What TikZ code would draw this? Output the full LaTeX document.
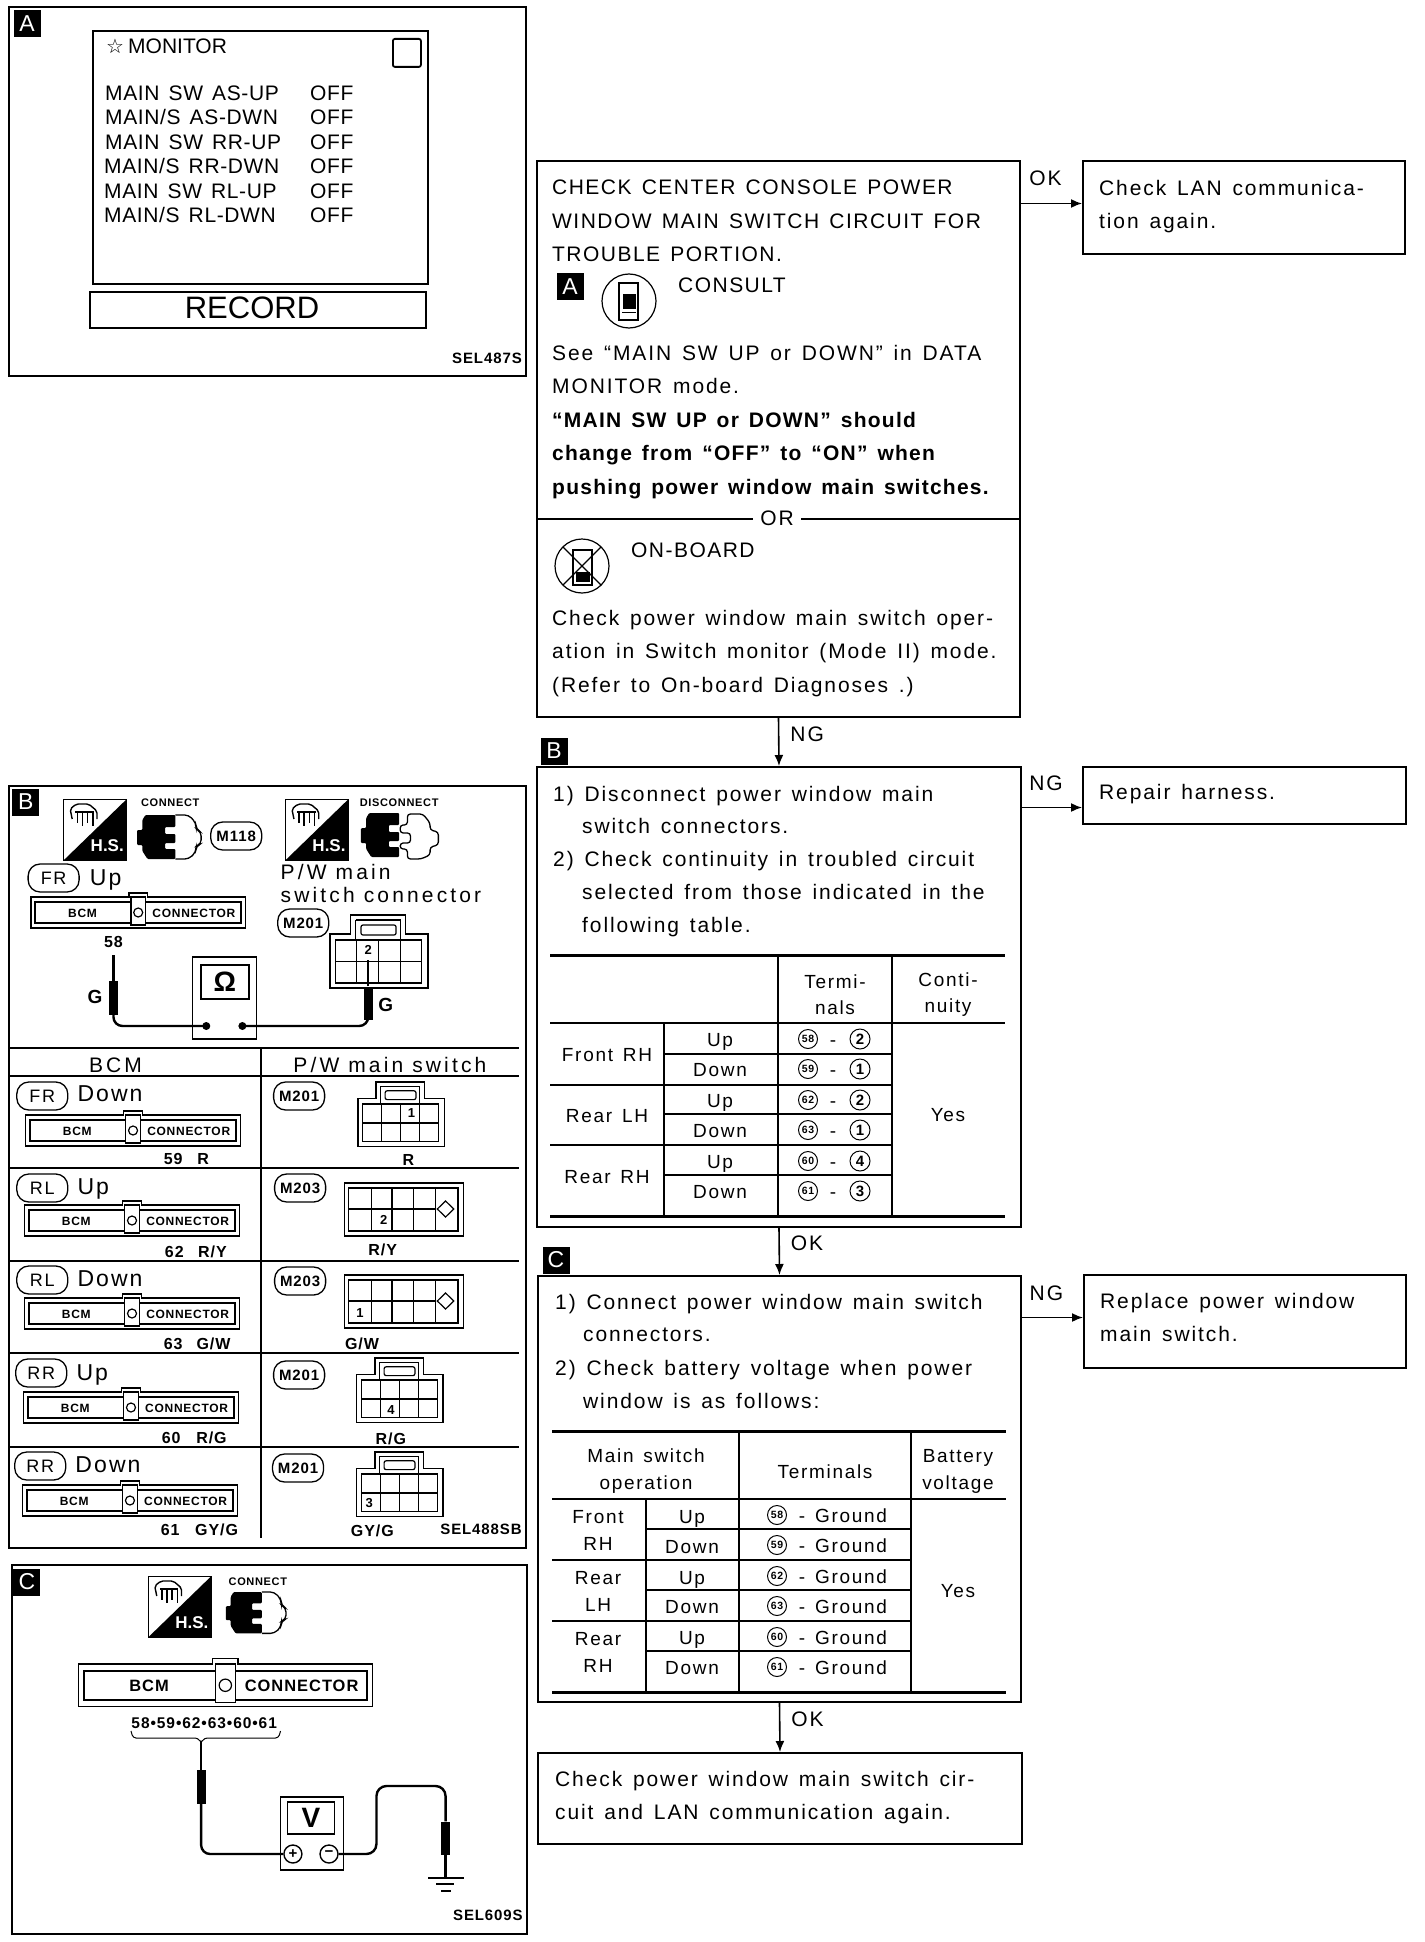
\documentclass[tikz,border=0pt]{standalone}
\usepackage{fontspec}
\setmainfont[LetterSpace=9, WordSpace=1.4, BoldFeatures={LetterSpace=6}]{Liberation Sans}
\newfontfamily\capsfont[LetterSpace=7, WordSpace=1.4]{Liberation Sans}
\newfontfamily\panelfont[LetterSpace=3, WordSpace=1.4]{Liberation Sans}
\newfontfamily\widefont[LetterSpace=15]{Liberation Sans}
\newfontfamily\plainfont{Liberation Sans}
\newfontfamily\symfont{DejaVu Sans}
\usetikzlibrary{arrows.meta, shapes.geometric}

\tikzset{
    pics/bcmconn/.style={code={
        \draw[conline, fill=white] (0,0) -- (95,0) -- (95,-4) -- (113,-4) -- (113,0) -- (208,0) -- (208,31) -- (0,31) -- cycle;
        \draw[conline, line width=1.8pt] (4,5) rectangle (204,26);
        \draw[conline, fill=white] (97,0) -- (111,0) -- (111,28) -- (97,28) -- cycle;
        \draw[conline] (104,15.5) circle (4.5pt);
        \node[bcmtxt] (-b) at (50,16) {BCM};
        \node[bcmtxt] (-c) at (158,16) {CONNECTOR};
    }},
    pics/hsicon/.style={code={
        \draw[line width=1pt] (0,0) rectangle (61,61);
        \fill (0,61) -- (61,0) -- (61,61) -- cycle;
        \node[hstxt] (-t) at (42,47) {H.S.};
        \draw[line width=1.4pt, rounded corners=2pt] (8,20) -- (6,10) -- (12,5) -- (24,5) -- (32,12) -- (32,20);
        \draw[line width=1.6pt] (11,13) -- (29,13) (13,13) -- (13,24) (18,13) -- (18,27) (23,13) -- (23,24) (28,13) -- (28,27);
    }},
    pics/connicon/.style={code={
        \fill[rounded corners=1pt] (8,0) -- (37,0) -- (37,12) -- (27,12) -- (27,19) -- (37,19) -- (37,28) -- (27,28) -- (27,34) -- (37,34) -- (37,44) -- (10,44) -- (5,36) -- (5,30) -- (0,30) -- (0,15) -- (5,15) -- (5,5) -- cycle;
        \draw[line width=1.3pt, rounded corners=4pt] (37,0) -- (50,0) -- (57,8) -- (57,14) -- (62,17) -- (62,29) -- (57,31) -- (57,37) -- (50,44) -- (37,44);
    }},
    pics/disconnicon/.style={code={
        \fill[rounded corners=1pt] (8,0) -- (37,0) -- (37,12) -- (27,12) -- (27,19) -- (37,19) -- (37,28) -- (27,28) -- (27,34) -- (37,34) -- (37,44) -- (10,44) -- (5,36) -- (5,30) -- (0,30) -- (0,15) -- (5,15) -- (5,5) -- cycle;
        \draw[line width=1.3pt, rounded corners=3pt] (45,1) -- (60,1) -- (67,10) -- (67,17) -- (75,19) -- (75,32) -- (67,34) -- (67,42) -- (58,46) -- (45,46) -- (45,36) -- (38,36) -- (38,30) -- (48,30) -- (48,20) -- (38,20) -- (38,12) -- (45,12) -- cycle;
    }},
    pics/mconn/.style={code={
        \draw[conline] (20,0) -- (73,0) -- (73,19) -- (95,19) -- (95,73) -- (0,73) -- (0,19) -- (20,19) -- cycle;
        \draw[conline] (25,5) -- (68,5) -- (68,25) (25,5) -- (25,25);
        \draw[conline, rounded corners=2pt] (30,10) rectangle (64,20);
        \draw[conline] (5,25) rectangle (89,68);
        \draw[conline] (26,25) -- (26,68) (47,25) -- (47,68) (68,25) -- (68,68) (5,46.5) -- (89,46.5);
    }},
    pics/mconnb/.style={code={
        \draw[conline] (0,0) rectangle (115,53);
        \draw[conline] (4,5) rectangle (110,48);
        \draw[conline] (26,5) -- (26,48) (46,5) -- (46,48) (67,5) -- (67,48) (88,5) -- (88,48) (4,26) -- (88,26);
        \draw[conline, fill=white] (98,18) -- (106,26) -- (98,34) -- (90,26) -- cycle;
    }}
}

\begin{document}
\begin{tikzpicture}[
        x=1pt, y=-1pt,
        panel/.style={rectangle, draw=black, line width=1.8pt, anchor=north west, inner sep=0pt},
        flowbox/.style={rectangle, draw=black, line width=2pt, anchor=north west, inner sep=0pt},
        badge/.style={rectangle, fill=black, text=white, minimum size=27pt, inner sep=0pt, font=\plainfont\fontsize{23}{23}\selectfont},
        flowtxt/.style={anchor=north west, inner sep=0pt, align=left, font=\fontsize{21}{33.4}\selectfont},
        capstxt/.style={anchor=north west, inner sep=0pt, align=left, font=\capsfont\fontsize{21}{33.4}\selectfont},
        cell/.style={inner sep=0pt, text height=15.5pt, text depth=0pt, font=\fontsize{19}{24}\selectfont},
        cellm/.style={inner sep=0pt, align=center, font=\fontsize{19}{27}\selectfont},
        monitor/.style={anchor=west, inner sep=0pt, text height=15pt, text depth=0pt, font=\panelfont\fontsize{21}{24}\selectfont},
        ovaltag/.style={rectangle, rounded corners=12pt, draw=black, line width=1.3pt, minimum width=51pt, minimum height=28pt, inner sep=0pt, font=\bfseries\fontsize{15}{15}\selectfont},
        sidetag/.style={ovaltag, font=\fontsize{18}{18}\selectfont},
        dirtxt/.style={anchor=west, inner sep=0pt, text height=16pt, text depth=0pt, font=\fontsize{23}{23}\selectfont},
        wiretxt/.style={inner sep=0pt, text height=12pt, text depth=0pt, font=\bfseries\fontsize{16}{16}\selectfont},
        smalltxt/.style={inner sep=0pt, font=\bfseries\fontsize{11}{11}\selectfont},
        bcmtxt/.style={inner sep=0pt, font=\bfseries\fontsize{12}{12}\selectfont},
        hstxt/.style={inner sep=0pt, text=white, font=\plainfont\bfseries\fontsize{17}{17}\selectfont},
        pinnum/.style={inner sep=0pt, font=\bfseries\fontsize{13}{13}\selectfont},
        codetxt/.style={inner sep=0pt, anchor=east, font=\bfseries\fontsize{15}{15}\selectfont},
        lbltxt/.style={inner sep=0pt, font=\fontsize{21}{21}\selectfont},
        hdrtxt/.style={inner sep=0pt, text height=16pt, text depth=0pt, font=\widefont\fontsize{21}{21}\selectfont},
        conline/.style={line width=1.2pt},
        circnum/.style={circle, draw=black, line width=1pt, minimum size=19pt, inner sep=0pt, font=\bfseries\fontsize{10.5}{10.5}\selectfont},
        circnumb/.style={circle, draw=black, line width=1pt, minimum size=20pt, inner sep=0pt, font=\bfseries\fontsize{15}{15}\selectfont},
        meterbox/.style={rectangle, draw=black, line width=1.6pt, anchor=north west, inner sep=0pt},
        meterdisp/.style={rectangle, draw=black, line width=1.6pt, anchor=north west, inner sep=0pt, font=\bfseries\fontsize{28}{28}\selectfont},
        meterpin/.style={circle, draw=black, line width=1.4pt, fill=white, minimum size=18pt, inner sep=0pt, font=\bfseries\fontsize{15}{15}\selectfont},
        probe/.style={rectangle, fill=black, minimum width=9pt, inner sep=0pt},
        wire/.style={line width=2.4pt},
        arrow/.style={-{Latex[length=11pt, width=9pt]}, line width=1.6pt},
        iconring/.style={circle, draw=black, line width=1.2pt, minimum size=54pt, inner sep=0pt},
        tablethick/.style={line width=3pt},
        tablethin/.style={line width=1.4pt}
    ]
    \useasboundingbox (0,0) rectangle (1424,1942);

    \node[panel, minimum width=517pt, minimum height=369pt] (panela) at (8,6) {};
    \node[badge] (badgea) at (27,24) {A};
    \node[panel, minimum width=335pt, minimum height=253pt] (monitorbox) at (92,30) {};
    \node[panel, minimum width=28pt, minimum height=28pt, rounded corners=2pt] (monitorkey) at (392,38) {};
    \node[panel, minimum width=336pt, minimum height=36pt] (recordbox) at (89,291) {};
    \node[inner sep=0pt, font=\plainfont\fontsize{31}{31}\selectfont] (recordtxt) at (252,308) {RECORD};
    \node[inner sep=0pt, font=\symfont\bfseries\fontsize{20}{20}\selectfont] (monitorstar) at (115,46) {☆};
    \node[anchor=west, inner sep=0pt, text height=15pt, text depth=0pt, font=\plainfont\fontsize{21}{21}\selectfont] (monitortitle) at (128,46) {MONITOR};
    \node[monitor] (swa) at (105,93) {MAIN SW AS-UP};
    \node[monitor] (swb) at (105,117) {MAIN/S AS-DWN};
    \node[monitor] (swc) at (105,142) {MAIN SW RR-UP};
    \node[monitor] (swd) at (104,166) {MAIN/S RR-DWN};
    \node[monitor] (swe) at (104,191) {MAIN SW RL-UP};
    \node[monitor] (swf) at (104,215) {MAIN/S RL-DWN};
    \node[monitor] (offa) at (310,93) {OFF};
    \node[monitor] (offb) at (310,117) {OFF};
    \node[monitor] (offc) at (310,142) {OFF};
    \node[monitor] (offd) at (310,166) {OFF};
    \node[monitor] (offe) at (310,191) {OFF};
    \node[monitor] (offf) at (310,215) {OFF};
    \node[codetxt] (codea) at (522,358) {SEL487S};

    \begin{scope}[x=1.0314pt]
    \node[panel, minimum width=517pt, minimum height=762pt] (panelb) at (8,785) {};
    \node[badge] (badgeb) at (25,802) {B};
    \pic (hsa) at (62,799) {hsicon};
    \pic (cna) at (133,815) {connicon};
    \node[smalltxt] (connecta) at (165,803) {CONNECT};
    \node[ovaltag] (mtag) at (229,836) {M118};
    \pic (hsb) at (277,799) {hsicon};
    \pic (cnb) at (350,813) {disconnicon};
    \node[smalltxt] (disconnect) at (387,803) {DISCONNECT};
    \node[sidetag] (tagfru) at (52,878) {FR};
    \node[dirtxt] (dirfru) at (87,877) {Up};
    \pic (bcma) at (30,897) {bcmconn};
    \node[wiretxt] (pina) at (110,941) {58};
    \node[anchor=north west, inner sep=0pt, align=left, font=\widefont\fontsize{21}{23}\selectfont] (pwconn) at (272,864) {P/W main\\switch connector};
    \node[ovaltag] (tagma) at (294,923) {M201};
    \pic (mca) at (320,915) {mconn};
    \node[pinnum] (pinb) at (357,950) {2};
    \node[wiretxt, font=\bfseries\fontsize{19}{19}\selectfont] (glabela) at (92,997) {G};
    \node[wiretxt, font=\bfseries\fontsize{19}{19}\selectfont] (glabelb) at (374,1005) {G};
    \node[meterbox, minimum width=64pt, minimum height=82pt] (ohmbox) at (186,956) {};
    \node[meterdisp, minimum width=48pt, minimum height=34pt] (ohmdisp) at (194,964) {Ω};
    \coordinate (ohmleft) at (200,1026);
    \coordinate (ohmright) at (235,1026);
    \fill (ohmleft) circle (4pt);
    \fill (ohmright) circle (4pt);
    \node[probe, minimum height=34pt] (probea) at (110,998) {};
    \node[probe, minimum height=33pt] (probeb) at (357,1003) {};
    \coordinate (tipa) at (110,955);
    \coordinate (tipb) at (357,960);
    \draw[wire] (probea.north) -- (tipa);
    \draw[wire] (probeb.north) -- (tipb);
    \draw[wire, rounded corners=9pt] (probea.south) |- (ohmleft);
    \draw[wire, rounded corners=9pt] (probeb.south) |- (ohmright);

    \draw[line width=2pt] (8,1048) -- (503,1048);
    \draw[line width=1.6pt] (253,1048) -- (253,1538);
    \draw[tablethin] (8,1076) -- (503,1076);
    \draw[tablethin] (8,1168) -- (503,1168);
    \draw[tablethin] (8,1261) -- (503,1261);
    \draw[tablethin] (8,1353) -- (503,1353);
    \draw[tablethin] (8,1447) -- (503,1447);
    \node[hdrtxt] (hdrbcm) at (112,1064) {BCM};
    \node[hdrtxt] (hdrpw) at (378,1064) {P/W main switch};

    \node[sidetag] (tagfrd) at (41,1096) {FR};
    \node[dirtxt] (dirfrd) at (75,1093) {Down};
    \pic (bcmb) at (25,1115) {bcmconn};
    \node[wiretxt] (pinc) at (168,1158) {59};
    \node[wiretxt] (wirec) at (197,1158) {R};
    \node[ovaltag] (tagmb) at (290,1096) {M201};
    \pic[scale=0.88, transform shape] (mcb) at (347,1082) {mconn};
    \node[pinnum] (pind) at (399,1113) {1};
    \node[wiretxt] (wired) at (396,1159) {R};

    \node[sidetag] (tagrlu) at (41,1188) {RL};
    \node[dirtxt] (dirrlu) at (75,1186) {Up};
    \pic (bcmc) at (24,1205) {bcmconn};
    \node[wiretxt] (pine) at (169,1251) {62};
    \node[wiretxt] (wiree) at (206,1251) {R/Y};
    \node[ovaltag] (tagmc) at (291,1188) {M203};
    \pic (mcc) at (334,1183) {mconnb};
    \node[pinnum] (pinf) at (372,1220) {2};
    \node[wiretxt] (wiref) at (371,1249) {R/Y};

    \node[sidetag] (tagrld) at (41,1280) {RL};
    \node[dirtxt] (dirrld) at (75,1278) {Down};
    \pic (bcmd) at (24,1298) {bcmconn};
    \node[wiretxt] (ping) at (168,1343) {63};
    \node[wiretxt] (wireg) at (207,1343) {G/W};
    \node[ovaltag] (tagmd) at (291,1281) {M203};
    \pic (mcd) at (334,1275) {mconnb};
    \node[pinnum] (pinh) at (349,1313) {1};
    \node[wiretxt] (wireh) at (351,1343) {G/W};

    \node[sidetag] (tagrru) at (40,1373) {RR};
    \node[dirtxt] (dirrru) at (74,1372) {Up};
    \pic (bcme) at (23,1392) {bcmconn};
    \node[wiretxt] (pini) at (166,1437) {60};
    \node[wiretxt] (wirei) at (205,1437) {R/G};
    \node[ovaltag] (tagme) at (290,1375) {M201};
    \pic[scale=0.88, transform shape] (mce) at (346,1358) {mconn};
    \node[pinnum] (pinj) at (379,1410) {4};
    \node[wiretxt] (wirej) at (379,1438) {R/G};

    \node[sidetag] (tagrrd) at (39,1466) {RR};
    \node[dirtxt] (dirrrd) at (73,1464) {Down};
    \pic (bcmf) at (22,1485) {bcmconn};
    \node[wiretxt] (pink) at (165,1529) {61};
    \node[wiretxt] (wirek) at (210,1529) {GY/G};
    \node[ovaltag] (tagmf) at (289,1468) {M201};
    \pic[scale=0.88, transform shape] (mcf) at (346,1452) {mconn};
    \node[pinnum] (pinl) at (358,1503) {3};
    \node[wiretxt] (wirel) at (361,1530) {GY/G};
    \node[codetxt] (codeb) at (506,1529) {SEL488SB};

    \node[panel, minimum width=515pt, minimum height=369pt] (panelc) at (11,1564) {};
    \node[badge] (badgec) at (26,1582) {C};
    \pic (hsc) at (144,1576) {hsicon};
    \node[smalltxt] (connectb) at (250,1582) {CONNECT};
    \pic[scale=0.94] (cnc) at (219,1592) {connicon};
    \pic[scale=1.37, transform shape] (bcmg) at (76,1664) {bcmconn};
    \node[inner sep=0pt, font=\bfseries\fontsize{15.5}{16}\selectfont] (pinall) at (198,1723) {58•59•62•63•60•61};
    \draw[line width=1pt, rounded corners=3pt] (127,1731) -- (129,1738) -- (192,1738) -- (195,1743) -- (198,1738) -- (270,1738) -- (272,1731);
    \node[meterbox, minimum width=63pt, minimum height=73pt] (voltbox) at (271,1796) {};
    \node[meterdisp, minimum width=47pt, minimum height=32pt] (voltdisp) at (278,1801) {V};
    \node[meterpin] (voltplus) at (284,1854) {+};
    \node[meterpin] (voltminus) at (319,1854) {−};
    \node[probe, minimum height=34pt] (probec) at (195,1787) {};
    \node[probe, minimum height=33pt] (probed) at (432,1838) {};
    \coordinate (tipc) at (195,1742);
    \coordinate (gndtop) at (432,1878);
    \draw[wire] (probec.north) -- (tipc);
    \draw[wire] (probed.south) -- (gndtop);
    \draw[wire, rounded corners=9pt] (probec.south) |- (voltplus.west);
    \draw[wire, rounded corners=10pt] (voltminus.east) -- (365,1854) -- (365,1786) -- (432,1786) -- (probed.north);
    \draw[line width=1.8pt] (415,1878) -- (450,1878);
    \draw[line width=1.4pt] (423,1884) -- (440,1884);
    \draw[line width=1.4pt] (428,1891) -- (437,1891);
    \node[codetxt] (codec) at (507,1915) {SEL609S};
    \end{scope}

    \node[flowbox, minimum width=483pt, minimum height=556pt] (checkbox) at (536,160) {};
    \node[flowbox, minimum width=322pt, minimum height=93pt] (lanbox) at (1082,160) {};
    \node[flowbox, minimum width=484pt, minimum height=460pt] (contbox) at (536,766) {};
    \node[flowbox, minimum width=323pt, minimum height=57pt] (repairbox) at (1082,766) {};
    \node[flowbox, minimum width=483pt, minimum height=426pt] (battbox) at (537,1275) {};
    \node[flowbox, minimum width=322pt, minimum height=93pt] (replacebox) at (1083,1274) {};
    \node[flowbox, minimum width=484pt, minimum height=91pt] (endbox) at (537,1752) {};

    \draw[arrow] ([yshift=4pt]lanbox.west -| checkbox.east) -- node[lbltxt, pos=0.4, above=17pt] (oka) {OK} ([yshift=4pt]lanbox.west);
    \draw[arrow] ([yshift=-12pt]repairbox.west -| contbox.east) -- node[lbltxt, pos=0.4, above=16pt] (ngb) {NG} ([yshift=-12pt]repairbox.west);
    \draw[arrow] ([yshift=4pt]replacebox.west -| battbox.east) -- node[lbltxt, pos=0.4, above=16pt] (ngc) {NG} ([yshift=4pt]replacebox.west);
    \draw[arrow] (checkbox.south) -- node[lbltxt, pos=0.33, right=11pt] (nga) {NG} (contbox.north);
    \draw[arrow] (contbox.south) -- node[lbltxt, pos=0.33, right=11pt] (okb) {OK} (battbox.north);
    \draw[arrow] (battbox.south) -- node[lbltxt, pos=0.33, right=11pt] (okc) {OK} (endbox.north);

    \node[capstxt] (checktxt) at (552,180) {CHECK CENTER CONSOLE POWER\\WINDOW MAIN SWITCH CIRCUIT FOR\\TROUBLE PORTION.};
    \node[badge, minimum size=27pt] (badgeconsult) at (570,287) {A};
    \node[iconring] (consultring) at (629,301) {};
    \draw[line width=1.6pt] (619,283) rectangle (638,320);
    \fill (623,294) rectangle (636,309);
    \draw[line width=1pt] (622,313) -- (636,313);
    \node[capstxt] (consulttxt) at (678,278) {CONSULT};
    \node[flowtxt] (seetxt) at (552,345) {See “MAIN SW UP or DOWN” in DATA\\MONITOR mode.\\\textbf{“MAIN SW UP or DOWN” should}\\\textbf{change from “OFF” to “ON” when}\\\textbf{pushing power window main switches.}};
    \draw[line width=2pt] (checkbox.west |- 0,519) -- (checkbox.east |- 0,519);
    \node[lbltxt, fill=white, inner sep=7pt] (ortxt) at (777,518) {OR};
    \node[iconring] (boardring) at (582,566) {};
    \draw[line width=1.6pt] (573,550) rectangle (592,585);
    \fill (576,572) rectangle (590,582);
    \draw[line width=1.2pt] (563,547) -- (601,585) (601,547) -- (563,585);
    \node[capstxt] (boardtxt) at (631,543) {ON-BOARD};
    \node[flowtxt] (switchtxt) at (552,610) {Check power window main switch oper-\\ation in Switch monitor (Mode II) mode.\\(Refer to On-board Diagnoses .)};
    \node[flowtxt] (lantxt) at (1099,180) {Check LAN communica-\\tion again.};

    \node[badge] (badgecont) at (554,751) {B};
    \node[flowtxt] (conttxta) at (553,786) {1) Disconnect power window main};
    \node[flowtxt] (conttxtb) at (582,818) {switch connectors.};
    \node[flowtxt] (conttxtc) at (553,851) {2) Check continuity in troubled circuit};
    \node[flowtxt] (conttxtd) at (582,884) {selected from those indicated in the};
    \node[flowtxt] (conttxte) at (582,917) {following table.};
    \node[flowtxt] (repairtxt) at (1099,784) {Repair harness.};

    \draw[tablethick] (550,955) -- (1005,955);
    \draw[tablethick] (550,1216) -- (1005,1216);
    \draw[tablethin] (550,1023) -- (1005,1023);
    \draw[tablethin, line width=2pt] (778,955) -- (778,1216);
    \draw[tablethin, line width=2pt] (892,955) -- (892,1216);
    \draw[tablethin, line width=1.8pt] (664,1023) -- (664,1216);
    \draw[tablethin] (664,1054) -- (892,1054);
    \draw[tablethin] (550,1085) -- (892,1085);
    \draw[tablethin] (664,1114) -- (892,1114);
    \draw[tablethin] (550,1145) -- (892,1145);
    \draw[tablethin] (664,1175) -- (892,1175);
    \node[cellm, font=\fontsize{19}{26}\selectfont] (hdrterm) at (835,995) {Termi-\\nals};
    \node[cellm, font=\fontsize{19}{26}\selectfont] (hdrcont) at (948,995) {Conti-\\nuity};
    \node[cell] (frontrh) at (607,1054) {Front RH};
    \node[cell] (rearlh) at (607,1115) {Rear LH};
    \node[cell] (rearrh) at (607,1176) {Rear RH};
    \node[cell] (upa) at (720,1039) {Up};
    \node[cell] (downa) at (720,1069) {Down};
    \node[cell] (upb) at (720,1100) {Up};
    \node[cell] (downb) at (720,1130) {Down};
    \node[cell] (upc) at (720,1161) {Up};
    \node[cell] (downc) at (720,1191) {Down};
    \node[circnum] (ca) at (808,1039) {58};
    \node[circnum] (cb) at (808,1069) {59};
    \node[circnum] (cc) at (808,1100) {62};
    \node[circnum] (cd) at (808,1130) {63};
    \node[circnum] (ce) at (808,1161) {60};
    \node[circnum] (cf) at (808,1191) {61};
    \node[cell] (da) at (833,1039) {-};
    \node[cell] (db) at (833,1069) {-};
    \node[cell] (dc) at (833,1100) {-};
    \node[cell] (dd) at (833,1130) {-};
    \node[cell] (de) at (833,1161) {-};
    \node[cell] (df) at (833,1191) {-};
    \node[circnumb] (ta) at (860,1039) {2};
    \node[circnumb] (tb) at (860,1069) {1};
    \node[circnumb] (tc) at (860,1100) {2};
    \node[circnumb] (td) at (860,1130) {1};
    \node[circnumb] (te) at (860,1161) {4};
    \node[circnumb] (tf) at (860,1191) {3};
    \node[cell] (yesa) at (948,1114) {Yes};

    \node[badge] (badgebatt) at (556,1260) {C};
    \node[flowtxt] (batttxta) at (555,1294) {1) Connect power window main switch};
    \node[flowtxt] (batttxtb) at (583,1328) {connectors.};
    \node[flowtxt] (batttxtc) at (555,1360) {2) Check battery voltage when power};
    \node[flowtxt] (batttxtd) at (583,1393) {window is as follows:};
    \node[flowtxt] (replacetxt) at (1100,1293) {Replace power window\\main switch.};

    \draw[tablethick] (552,1431) -- (1006,1431);
    \draw[tablethick] (552,1692) -- (1006,1692);
    \draw[tablethin, line width=1.8pt] (552,1499) -- (1006,1499);
    \draw[tablethin, line width=2pt] (739,1431) -- (739,1692);
    \draw[tablethin, line width=2pt] (911,1431) -- (911,1692);
    \draw[tablethin, line width=1.8pt] (646,1499) -- (646,1692);
    \draw[tablethin] (646,1529) -- (911,1529);
    \draw[tablethin] (552,1560) -- (911,1560);
    \draw[tablethin] (646,1590) -- (911,1590);
    \draw[tablethin] (552,1621) -- (911,1621);
    \draw[tablethin] (646,1651) -- (911,1651);
    \node[cellm] (hdrop) at (646,1471) {Main switch\\operation};
    \node[cell] (hdrterms) at (825,1471) {Terminals};
    \node[cellm] (hdrvolt) at (958,1471) {Battery\\voltage};
    \node[cellm] (frontb) at (598,1530) {Front\\RH};
    \node[cellm] (rearb) at (598,1591) {Rear\\LH};
    \node[cellm] (rearc) at (598,1652) {Rear\\RH};
    \node[cell] (upd) at (692,1516) {Up};
    \node[cell] (downd) at (692,1546) {Down};
    \node[cell] (upe) at (692,1577) {Up};
    \node[cell] (downe) at (692,1606) {Down};
    \node[cell] (upf) at (692,1637) {Up};
    \node[cell] (downf) at (692,1667) {Down};
    \node[circnum] (cg) at (777,1515) {58};
    \node[circnum] (ch) at (777,1545) {59};
    \node[circnum] (ci) at (777,1576) {62};
    \node[circnum] (cj) at (777,1606) {63};
    \node[circnum] (ck) at (777,1637) {60};
    \node[circnum] (cl) at (777,1667) {61};
    \node[cell] (gnda) at (843,1515) {- Ground};
    \node[cell] (gndb) at (843,1545) {- Ground};
    \node[cell] (gndc) at (843,1576) {- Ground};
    \node[cell] (gndd) at (843,1606) {- Ground};
    \node[cell] (gnde) at (843,1637) {- Ground};
    \node[cell] (gndf) at (843,1667) {- Ground};
    \node[cell] (yesb) at (958,1590) {Yes};

    \node[flowtxt] (endtxt) at (555,1771) {Check power window main switch cir-\\cuit and LAN communication again.};
\end{tikzpicture}
\end{document}
